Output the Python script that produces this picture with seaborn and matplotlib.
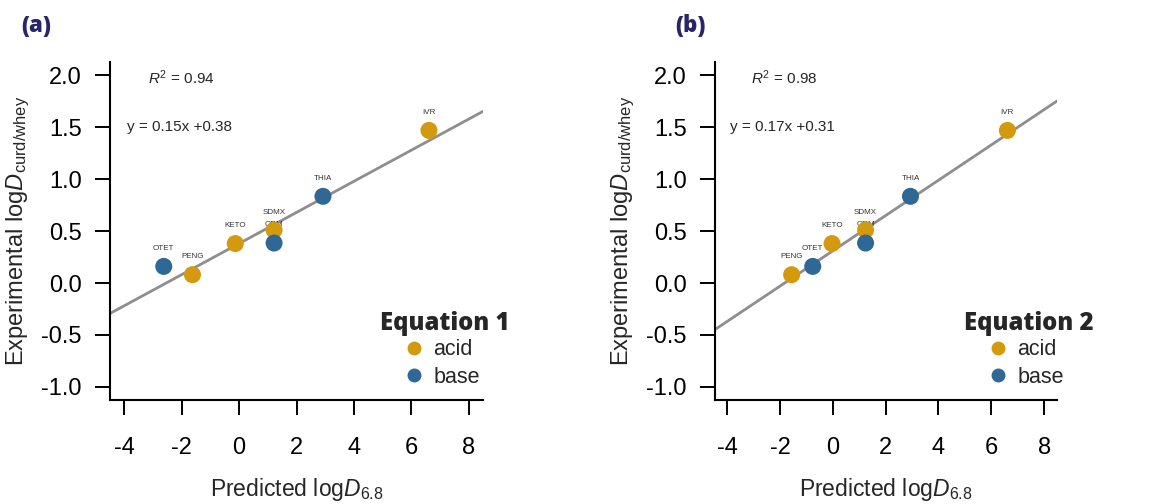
import numpy as np
import pandas as pd
import matplotlib
matplotlib.use("Agg")
import matplotlib.pyplot as plt
import seaborn as sns

# ---------------- data ----------------
compounds = ["OTET", "PENG", "KETO", "SDMX", "ORM", "THIA", "IVR"]
charge = ["base", "acid", "acid", "acid", "base", "base", "acid"]
experimental = [0.16, 0.08, 0.38, 0.51, 0.385, 0.835, 1.47]
predicted_eq1 = [-2.62, -1.62, -0.13, 1.22, 1.22, 2.92, 6.61]
predicted_eq2 = [-0.76, -1.56, -0.03, 1.24, 1.24, 2.94, 6.61]
slope = [0.15, 0.17]
intercept = [0.38, 0.31]
r2 = [0.94, 0.98]
panel_tags = ["(a)", "(b)"]
legend_titles = ["Equation 1", "Equation 2"]
x_ticks = [-4, -2, 0, 2, 4, 6, 8]
y_ticks = [-1.0, -0.5, 0.0, 0.5, 1.0, 1.5, 2.0]

palette = {"acid": "#D49A0E", "base": "#2F6894"}

sns.set_theme(style="ticks")
plt.rcParams["font.family"] = ["Liberation Sans", "DejaVu Sans"]
plt.rcParams["mathtext.fontset"] = "custom"
plt.rcParams["mathtext.rm"] = "Liberation Sans"
plt.rcParams["mathtext.it"] = "Liberation Sans:italic"
plt.rcParams["mathtext.bf"] = "Liberation Sans:bold"

W, H = 1170, 504
fig = plt.figure(figsize=(W / 100, H / 100), dpi=100)

# axes boxes in pixels: left, right, top, bottom
boxes = [(110, 483, 62, 400), (715.3, 1057.3, 62, 400)]
xlims = [(-4.49, 8.49), (-4.45, 8.50)]
ylim = (-1.127, 2.129)
legend_x = [0.724, 0.727]
text_x = [(-3.17, -3.9), (-3.11, -3.88)]
tag_x = [21, 675]

for i, pred in enumerate([predicted_eq1, predicted_eq2]):
    l, r, t, b = boxes[i]
    ax = fig.add_axes([l / W, 1 - b / H, (r - l) / W, (b - t) / H])
    df = pd.DataFrame({"compound": compounds, "charge": charge,
                       "pred": pred, "exp": experimental})

    # regression line
    ax.axline((0, intercept[i]), slope=slope[i], color="#8E8E8E",
              lw=2.0, zorder=1)

    # labels (drawn beneath points)
    for _, row in df.iterrows():
        ax.annotate(row["compound"], (row["pred"], row["exp"]),
                    xytext=(0, 13), textcoords="offset points",
                    ha="center", va="center", fontsize=5.8,
                    color="#333333", zorder=2)

    sns.scatterplot(data=df, x="pred", y="exp", hue="charge",
                    hue_order=["acid", "base"], palette=palette,
                    s=150, edgecolor="none", linewidth=0, ax=ax, zorder=3)

    ax.set_xlim(*xlims[i])
    ax.set_ylim(*ylim)
    ax.set_xticks(x_ticks)
    ax.set_xticklabels([f"{v:g}" for v in x_ticks])
    ax.set_yticks(y_ticks)
    ax.set_yticklabels([f"{v:.1f}" for v in y_ticks])
    for s in ["top", "right"]:
        ax.spines[s].set_visible(False)
    for s in ["left", "bottom"]:
        ax.spines[s].set_linewidth(1.5)
        ax.spines[s].set_color("black")
    ax.tick_params(axis="both", length=10.5, width=1.4, colors="black",
                   labelsize=17, direction="out")
    ax.tick_params(axis="x", pad=16.5)
    ax.tick_params(axis="y", pad=10)

    ax.set_xlabel(r"Predicted log$\it{D}_{\rm{6.8}}$", fontsize=16.5,
                  labelpad=12)
    ax.set_ylabel(r"Experimental log$\it{D}_{\rm{curd/whey}}$", fontsize=17,
                  labelpad=6.5)

    ax.text(text_x[i][0], 1.975, rf"$\it{{R}}^2$ = {r2[i]:.2f}",
            fontsize=11, va="center", ha="left")
    ax.text(text_x[i][1], 1.506, f"y = {slope[i]:.2f}x +{intercept[i]:.2f}",
            fontsize=11, va="center", ha="left")

    sns.move_legend(ax, loc="upper left", bbox_to_anchor=(legend_x[i], 0.262),
                    title=legend_titles[i], frameon=False, fontsize=15.5,
                    handlelength=3.2, handletextpad=-0.72, borderpad=0,
                    labelspacing=0.31, borderaxespad=0)
    leg = ax.get_legend()
    leg.get_title().set_fontfamily(["Open Sans", "DejaVu Sans"])
    leg.get_title().set_fontweight("heavy")
    leg.get_title().set_fontsize(17.2)
    leg._legend_box.align = "left"
    leg._legend_box.sep = 2
    for h in leg.legend_handles:
        h.set_markersize(10)

    fig.text(tag_x[i] / W, 1 - 26 / H, panel_tags[i], fontsize=16,
             fontweight="heavy", color="#2A2566",
             family=["Open Sans", "DejaVu Sans"], va="center", ha="left")

fig.savefig("out.png", dpi=100)
